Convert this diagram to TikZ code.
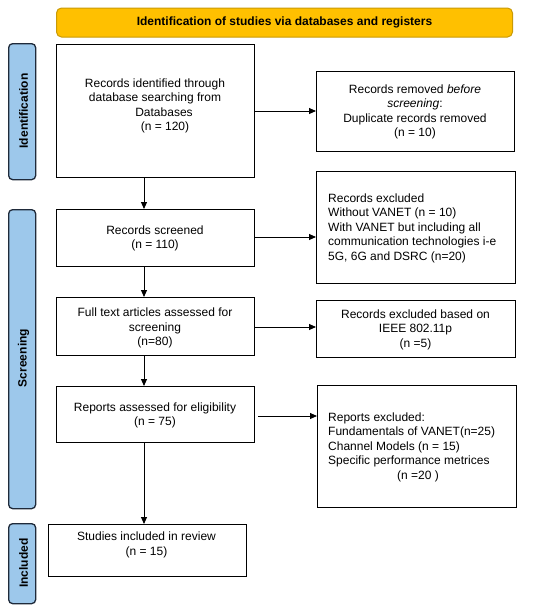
\documentclass[tikz,border=0pt]{standalone}
\usepackage{fontspec}
\setmainfont{Liberation Sans}
\usetikzlibrary{arrows.meta}
\definecolor{gold}{HTML}{FFC000}
\definecolor{golddark}{HTML}{C99A06}
\definecolor{sideblue}{HTML}{9DC8EB}
\definecolor{sideedge}{HTML}{1F2A3A}
\tikzset{
  box/.style={draw=black, line width=1.3pt, inner sep=0pt, anchor=north west},
  side/.style={draw=sideedge, fill=sideblue, line width=1.3pt, rounded corners=4pt, inner sep=0pt, anchor=north west, minimum width=27pt},
  sidetext/.style={rotate=90, font=\bfseries\fontsize{12}{13}\selectfont},
  txt/.style={font=\fontsize{12}{14.5}\selectfont, align=center, inner sep=0pt},
  ltxt/.style={font=\fontsize{12}{14.5}\selectfont, align=left, inner sep=0pt, anchor=north west},
  arr/.style={draw=black, line width=0.9pt, -{Triangle[length=7pt,width=6pt]}}
}
\begin{document}
\begin{tikzpicture}[x=1pt,y=-1pt]
\useasboundingbox (0,0) rectangle (550,611);
% banner
\node[draw=golddark, fill=gold, line width=1pt, rounded corners=5pt, anchor=north west, minimum width=456pt, minimum height=29pt, inner sep=0pt, font=\bfseries\fontsize{12}{13}\selectfont] (banner) at (56,7.5) {Identification of studies via databases and registers};
% side labels
\node[side, minimum height=136pt] (sid) at (8,43) {};
\node[sidetext] (sidt) at (23.5,111) {Identification};
\node[side, minimum height=299pt] (ssc) at (8,209) {};
\node[sidetext] (ssct) at (23.5,358) {Screening};
\node[side, minimum height=80pt] (sin) at (8,523) {};
\node[sidetext] (sint) at (23.5,563) {Included};
% left boxes
\node[box, minimum width=198pt, minimum height=133pt] (b1) at (56,44) {};
\node[txt] (b1t) at (155,106) {Records identified through\\database searching from\\\hspace*{18pt}Databases\\\hspace*{20pt}(n = 120)};
\node[box, minimum width=198pt, minimum height=57pt] (b2) at (56,209) {};
\node[txt] (b2t) at (155,238.5) {Records screened\\(n = 110)};
\node[box, minimum width=198pt, minimum height=58pt] (b3) at (56,297) {};
\node[txt] (b3t) at (155,328) {Full text articles assessed for\\screening\\(n=80)};
\node[box, minimum width=198pt, minimum height=56pt] (b4) at (56,386) {};
\node[txt] (b4t) at (155,415.5) {Reports assessed for eligibility\\(n = 75)};
\node[box, minimum width=198pt, minimum height=52pt] (b5) at (48,524) {};
\node[txt] (b5t) at (146.5,545) {Studies included in review\\(n = 15)};
% right boxes
\node[box, minimum width=198pt, minimum height=80pt] (r1) at (316,71) {};
\node[txt] (r1t) at (415,112) {Records removed \textit{before}\\\textit{screening}:\\Duplicate records removed\\(n = 10)};
\node[box, minimum width=199pt, minimum height=112pt] (r2) at (316,171) {};
\node[ltxt] (r2t) at (328,193.5) {Records excluded\\Without VANET (n = 10)\\With VANET but including all\\communication technologies i-e\\5G, 6G and DSRC (n=20)};
\node[box, minimum width=199pt, minimum height=57pt] (r3) at (316,300) {};
\node[txt] (r3t) at (415.5,329.5) {Records excluded based on\\IEEE 802.11p\\(n =5)};
\node[box, minimum width=199pt, minimum height=122pt] (r4) at (317,385) {};
\node[ltxt] (r4t) at (328,412.5) {Reports excluded:\\Fundamentals of VANET(n=25)\\Channel Models (n = 15)\\Specific performance metrices\\\hspace*{69pt}(n =20 )};
% arrows
\draw[arr] (b1.south -| 144,0) -- (b2.north -| 144,0);
\draw[arr] (b2.south -| 144,0) -- (b3.north -| 144,0);
\draw[arr] (b3.south -| 144,0) -- (b4.north -| 144,0);
\draw[arr] (b4.south -| 144,0) -- (b5.north -| 144,0);
\draw[arr] (b1.east |- 0,111) -- (r1.west |- 0,111);
\draw[arr] (b2.east |- 0,237) -- (r2.west |- 0,237);
\draw[arr] (b3.east |- 0,327) -- (r3.west |- 0,327);
\draw[arr] (258,416) -- (r4.west |- 0,416);
\end{tikzpicture}
\end{document}
